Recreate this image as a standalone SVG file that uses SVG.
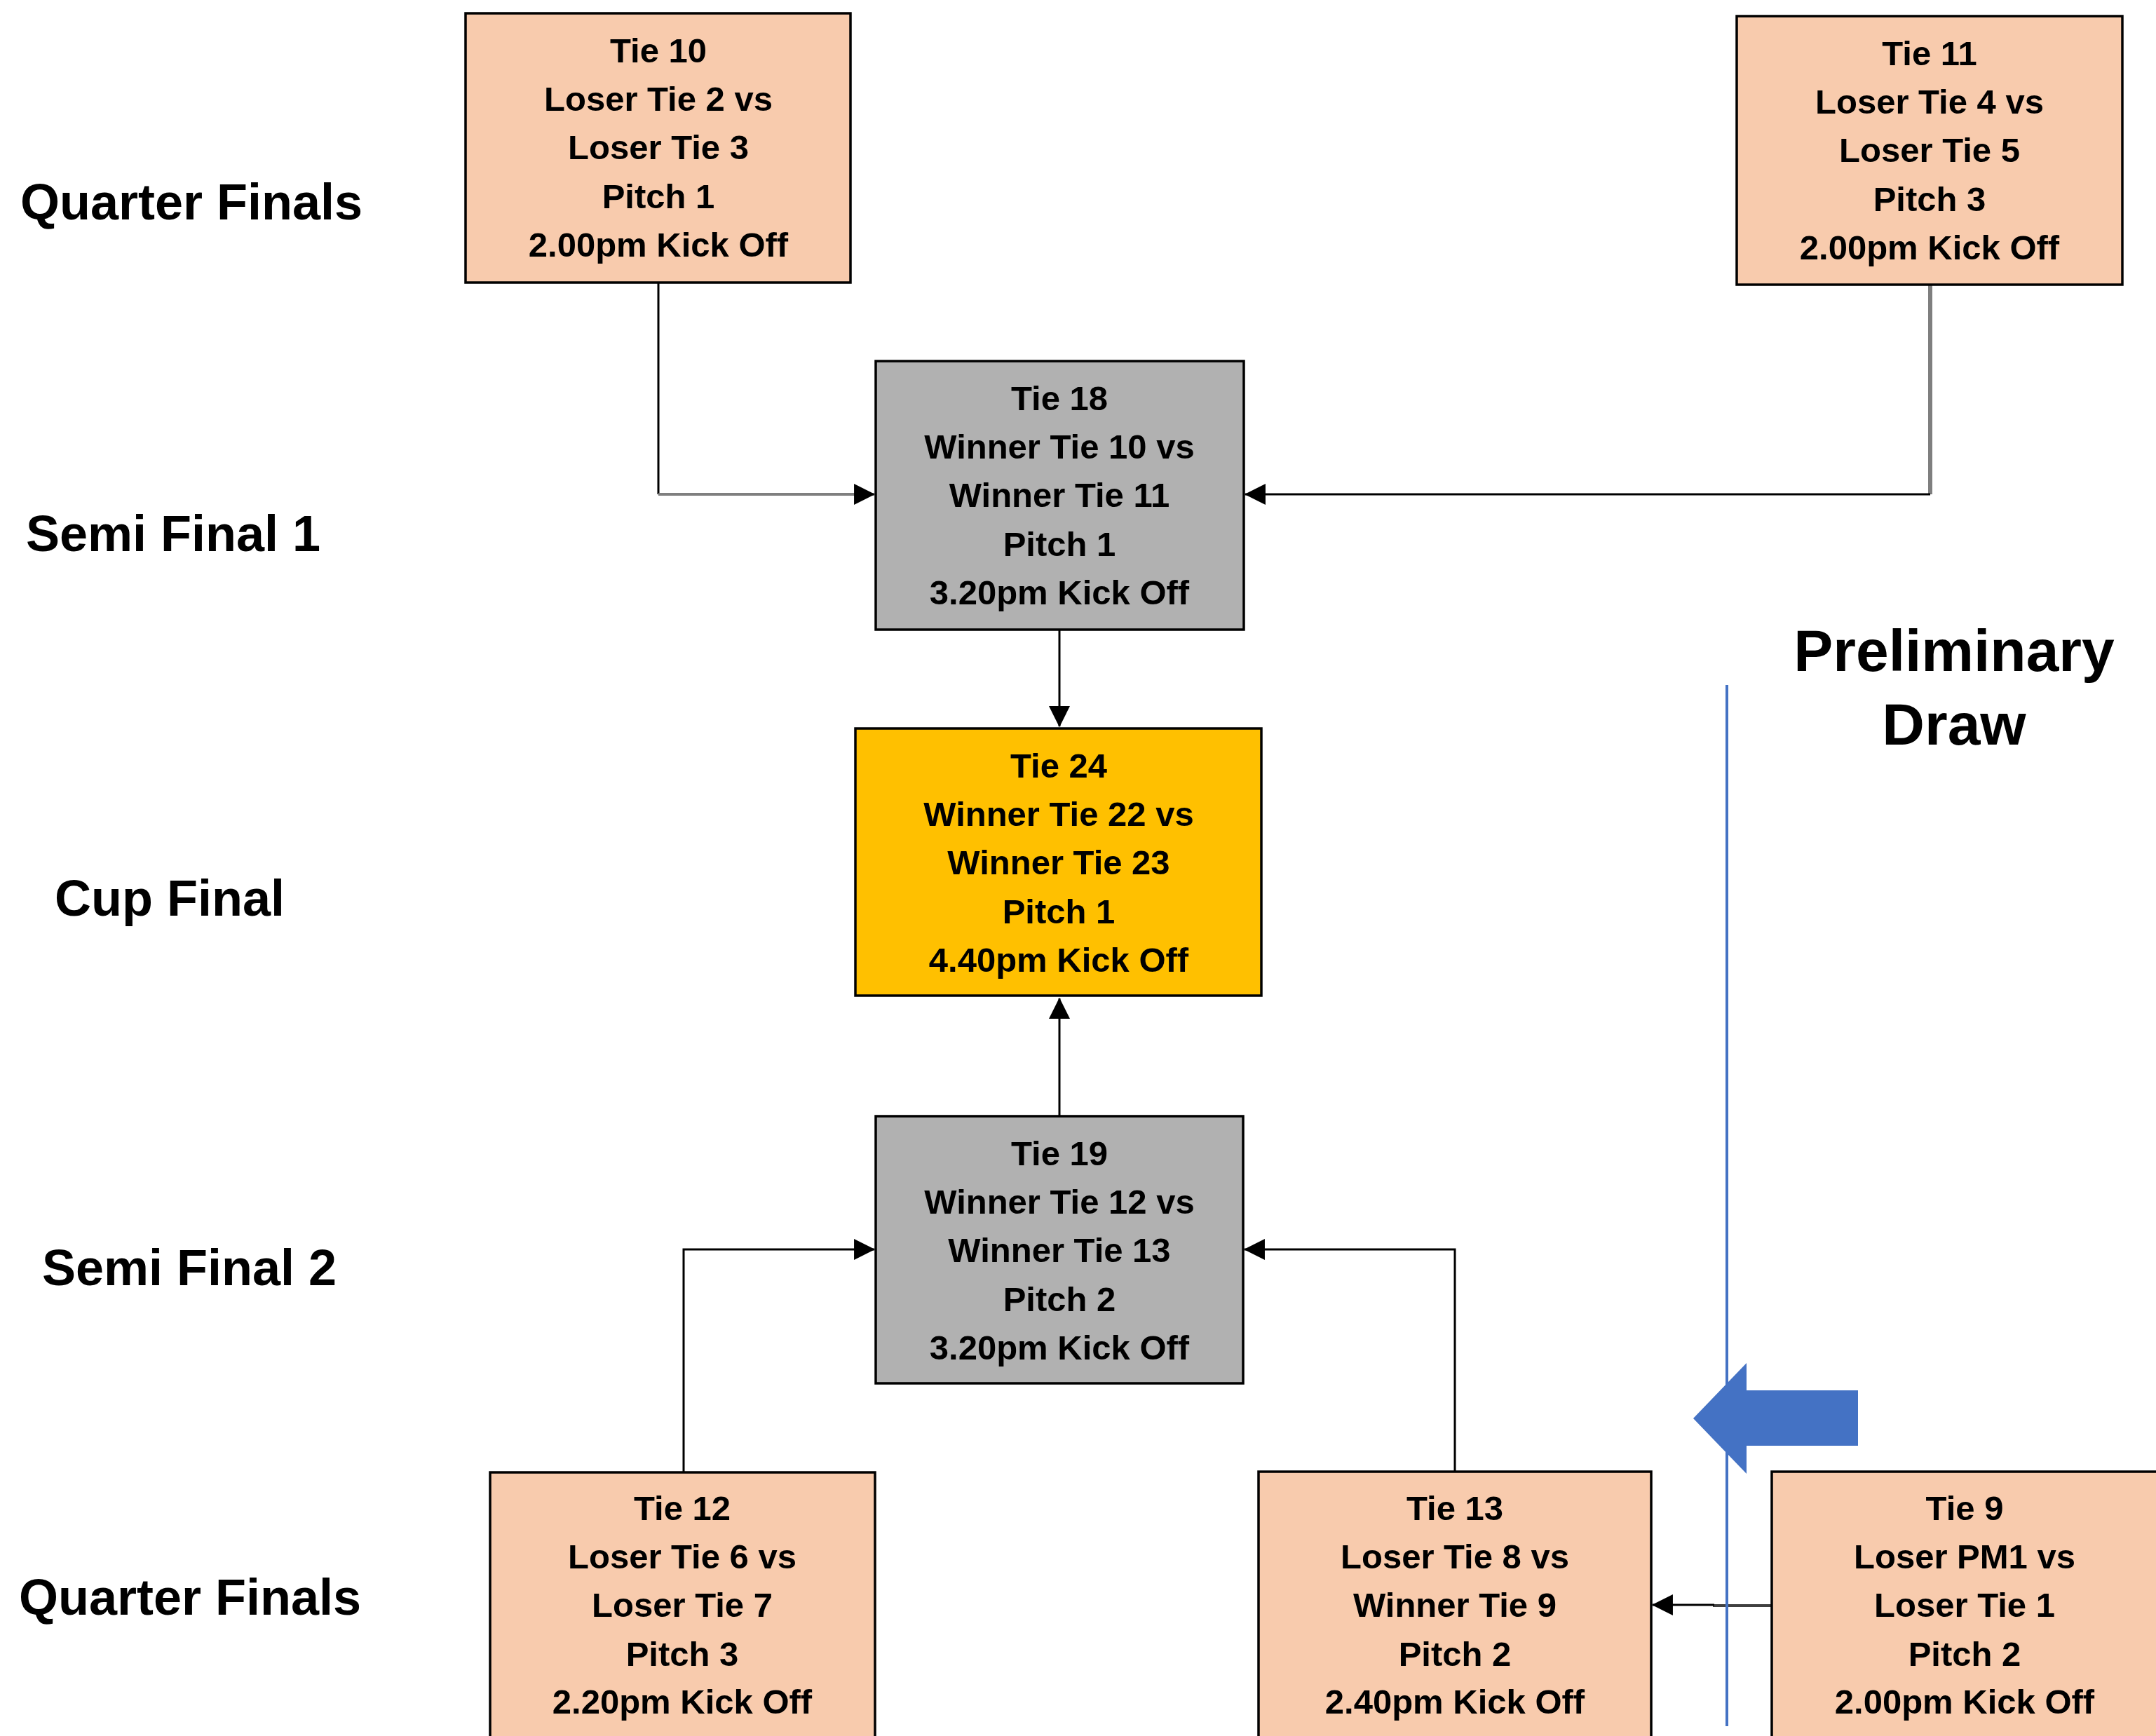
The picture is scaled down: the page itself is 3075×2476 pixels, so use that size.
<svg xmlns="http://www.w3.org/2000/svg" width="3075" height="2476" viewBox="0 0 3075 2476">
<style>
.box{stroke:#000;stroke-width:3.5}
.qf{fill:#F8CBAD}
.sf{fill:#B1B1B1}
.cup{fill:#FFC000}
.t{font-family:"Liberation Sans",Arial,sans-serif;font-weight:bold;font-size:49px;text-anchor:middle;fill:#000}
.lbl{font-family:"Liberation Sans",Arial,sans-serif;font-weight:bold;font-size:72px;text-anchor:middle;fill:#000}
.pd{font-family:"Liberation Sans",Arial,sans-serif;font-weight:bold;font-size:84px;text-anchor:middle;fill:#000}
.c{fill:none;stroke:#000;stroke-width:3}
.cg{fill:none;stroke:#7F7F7F;stroke-width:4}
</style>
<defs>
<marker id="ah" markerUnits="userSpaceOnUse" markerWidth="30" markerHeight="30" viewBox="0 0 28 28" refX="27" refY="14" orient="auto">
<path d="M0,0 L28,14 L0,28 Z" fill="#000"/>
</marker>
</defs>
<rect width="3075" height="2476" fill="#fff"/>

<g id="labels">
<text class="lbl" x="273" y="313">Quarter Finals</text>
<text class="lbl" x="247" y="786">Semi Final 1</text>
<text class="lbl" x="242" y="1306">Cup Final</text>
<text class="lbl" x="270" y="1833">Semi Final 2</text>
<text class="lbl" x="271" y="2303">Quarter Finals</text>
<text class="pd" x="2787" y="957">Preliminary</text>
<text class="pd" x="2787" y="1062">Draw</text>
</g>

<g id="connectors">
<path class="c" d="M939,403 V705"/>
<path class="cg" d="M939,705 H1247" marker-end="url(#ah)"/>
<path d="M2753,407 V705" fill="none" stroke="#7F7F7F" stroke-width="6"/>
<path class="c" d="M2753,705 H1776" marker-end="url(#ah)"/>
<path class="c" d="M1511,898 V1036" marker-end="url(#ah)"/>
<path class="c" d="M1511,1592 V1424" marker-end="url(#ah)"/>
<path class="c" d="M975,2099 V1782 H1247" marker-end="url(#ah)"/>
<path class="c" d="M2075,2098 V1782 H1775" marker-end="url(#ah)"/>
<path d="M2527,2290 H2443" fill="none" stroke="#404040" stroke-width="4"/>
<path class="c" d="M2445,2289 H2357" marker-end="url(#ah)"/>
</g>

<g id="tie10">
<rect class="box qf" x="664" y="19" width="549" height="384"/>
<text class="t" x="939" y="89">Tie 10</text>
<text class="t" x="939" y="158">Loser Tie 2 vs</text>
<text class="t" x="939" y="227">Loser Tie 3</text>
<text class="t" x="939" y="297">Pitch 1</text>
<text class="t" x="939" y="366">2.00pm Kick Off</text>
</g>

<g id="tie11">
<rect class="box qf" x="2477" y="23" width="550" height="383"/>
<text class="t" x="2752" y="93">Tie 11</text>
<text class="t" x="2752" y="162">Loser Tie 4 vs</text>
<text class="t" x="2752" y="231">Loser Tie 5</text>
<text class="t" x="2752" y="301">Pitch 3</text>
<text class="t" x="2752" y="370">2.00pm Kick Off</text>
</g>

<g id="tie18">
<rect class="box sf" x="1249" y="515" width="525" height="383"/>
<text class="t" x="1511" y="585">Tie 18</text>
<text class="t" x="1511" y="654">Winner Tie 10 vs</text>
<text class="t" x="1511" y="723">Winner Tie 11</text>
<text class="t" x="1511" y="793">Pitch 1</text>
<text class="t" x="1511" y="862">3.20pm Kick Off</text>
</g>

<g id="tie24">
<rect class="box cup" x="1220" y="1039" width="579" height="381"/>
<text class="t" x="1510" y="1109">Tie 24</text>
<text class="t" x="1510" y="1178">Winner Tie 22 vs</text>
<text class="t" x="1510" y="1247">Winner Tie 23</text>
<text class="t" x="1510" y="1317">Pitch 1</text>
<text class="t" x="1510" y="1386">4.40pm Kick Off</text>
</g>

<g id="tie19">
<rect class="box sf" x="1249" y="1592" width="524" height="381"/>
<text class="t" x="1511" y="1662">Tie 19</text>
<text class="t" x="1511" y="1731">Winner Tie 12 vs</text>
<text class="t" x="1511" y="1800">Winner Tie 13</text>
<text class="t" x="1511" y="1870">Pitch 2</text>
<text class="t" x="1511" y="1939">3.20pm Kick Off</text>
</g>

<g id="tie12">
<rect class="box qf" x="699" y="2100" width="549" height="420"/>
<text class="t" x="973" y="2168">Tie 12</text>
<text class="t" x="973" y="2237">Loser Tie 6 vs</text>
<text class="t" x="973" y="2306">Loser Tie 7</text>
<text class="t" x="973" y="2376">Pitch 3</text>
<text class="t" x="973" y="2444">2.20pm Kick Off</text>
</g>

<g id="tie13">
<rect class="box qf" x="1795" y="2099" width="560" height="420"/>
<text class="t" x="2075" y="2168">Tie 13</text>
<text class="t" x="2075" y="2237">Loser Tie 8 vs</text>
<text class="t" x="2075" y="2306">Winner Tie 9</text>
<text class="t" x="2075" y="2376">Pitch 2</text>
<text class="t" x="2075" y="2444">2.40pm Kick Off</text>
</g>

<g id="tie9">
<rect class="box qf" x="2527" y="2099" width="560" height="420"/>
<text class="t" x="2802" y="2168">Tie 9</text>
<text class="t" x="2802" y="2237">Loser PM1 vs</text>
<text class="t" x="2802" y="2306">Loser Tie 1</text>
<text class="t" x="2802" y="2376">Pitch 2</text>
<text class="t" x="2802" y="2444">2.00pm Kick Off</text>
</g>

<g id="divider">
<line x1="2463" y1="977" x2="2463" y2="2462" stroke="#4472C4" stroke-width="4"/>
<polygon points="2415,2023 2491,1944 2491,1983 2650,1983 2650,2062 2491,2062 2491,2102" fill="#4472C4"/>
</g>
</svg>
